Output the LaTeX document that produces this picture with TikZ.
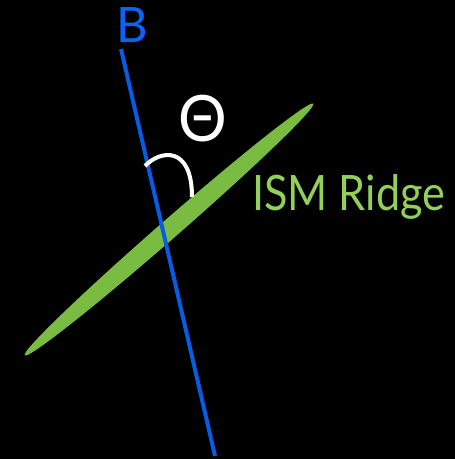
\documentclass[tikz,border=0pt]{standalone}
\usepackage{fontspec}
\setmainfont{Lato}
\usetikzlibrary{shapes.geometric}
\definecolor{bline}{RGB}{8,92,228}
\definecolor{btext}{RGB}{10,100,250}
\definecolor{ridge}{RGB}{122,188,66}
\definecolor{rtext}{RGB}{146,208,90}
\tikzset{
  lbl/.style={inner sep=0pt, font=\fontsize{48.8}{50}\selectfont},
}
\begin{document}
\begin{tikzpicture}[x=1pt,y=-1pt]
\fill[black] (0,0) rectangle (455,459);
\useasboundingbox (0,0) rectangle (455,459);
% ISM ridge ellipse
\node[ellipse, fill=ridge, inner sep=0pt, minimum width=383pt, minimum height=19pt, rotate=41.1] (ridge) at (169,229.5) {};
% B field line
\coordinate (btop) at (121,49);
\coordinate (bbot) at (215,456);
\draw[bline, line width=4pt] (btop) -- (bbot);
% angle arc
\coordinate (a1) at (145,166);
\coordinate (a2) at (192,197);
\draw[white, line width=4pt] (a1) .. controls (160,150) and (192,145) .. (a2);
% labels
\node[lbl, text=btext, anchor=base west] (B) at (116,42) {B};
\node[lbl, text=white, anchor=base, font=\fontsize{64}{66}\selectfont, xscale=0.95] (theta) at (203,141.5) {Θ};
\node[lbl, text=rtext, anchor=base west, xscale=0.885] (ism) at (252,210) {ISM Ridge};
\end{tikzpicture}
\end{document}
